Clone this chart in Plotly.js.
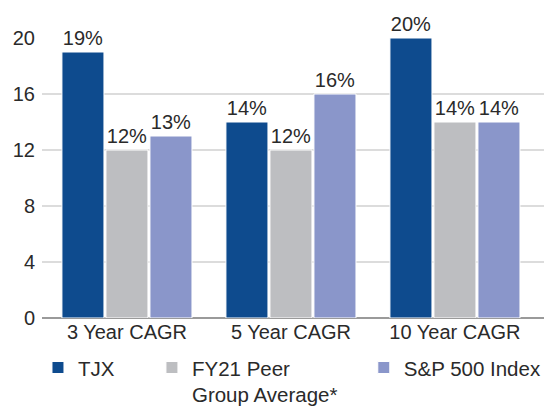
<!DOCTYPE html>
<html><head><meta charset="utf-8">
<script src="https://cdn.plot.ly/plotly-3.0.1.min.js"></script>
<style>html,body{margin:0;padding:0;background:#fff}#chart{width:544px;height:406px}</style>
</head><body><div id="chart"></div>
<script>
const categories = ["3 Year CAGR", "5 Year CAGR", "10 Year CAGR"];
const seriesNames = ["TJX", "FY21 Peer<br>Group Average*", "S&P 500 Index"];
const tjx = [19, 14, 20];
const peer = [12, 12, 14];
const sp500 = [13, 16, 14];
const yTicks = [0, 4, 8, 12, 16, 20];
const colors = ["#0e4b8e", "#bdbec1", "#8a96ca"];
const values = [tjx, peer, sp500];
const legendIds = ["legend", "legend2", "legend3"];

const font = "Liberation Sans, Arial, sans-serif";
const txt = "#2a2a2a";
const traces = values.map((v, i) => ({
  type: "bar",
  name: seriesNames[i],
  x: categories,
  y: v,
  marker: {color: colors[i], line: {color: "#ffffff", width: 1}},
  text: v.map(d => d + "%"),
  textposition: "outside",
  textfont: {family: font, size: 20, color: txt},
  cliponaxis: false,
  hoverinfo: "none",
  legend: legendIds[i]
}));

const legBase = {orientation: "h", yanchor: "top", xanchor: "left", valign: "top",
  font: {family: font, size: 20.5, color: txt}, bgcolor: "rgba(0,0,0,0)", y: -0.106};

const layout = {
  width: 544, height: 406,
  margin: {l: 42, r: 0, t: 38, b: 88, autoexpand: false},
  paper_bgcolor: "#fff", plot_bgcolor: "#fff",
  barmode: "group", bargap: 0.195, bargroupgap: 0.045,
  font: {family: font, size: 20, color: txt},
  xaxis: {type: "category", range: [-0.518, 2.543], showgrid: false, zeroline: false,
    showline: false, ticks: "", automargin: false, tickfont: {family: font, size: 20, color: txt}},
  yaxis: {range: [0, 20], tickvals: yTicks, ticktext: yTicks.map(String),
    showgrid: true, gridcolor: "#dcdcdc", gridwidth: 1.5,
    zeroline: true, zerolinecolor: "#9a9a9a", zerolinewidth: 2,
    showline: false, ticks: "", ticklabelstandoff: 6, automargin: false,
    tickfont: {family: font, size: 20, color: txt}},
  showlegend: true,
  legend: Object.assign({}, legBase, {x: -0.008}),
  legend2: Object.assign({}, legBase, {x: 0.219}),
  legend3: Object.assign({}, legBase, {x: 0.641})
};

Plotly.newPlot("chart", traces, layout, {displayModeBar: false, staticPlot: true});
</script></body></html>
